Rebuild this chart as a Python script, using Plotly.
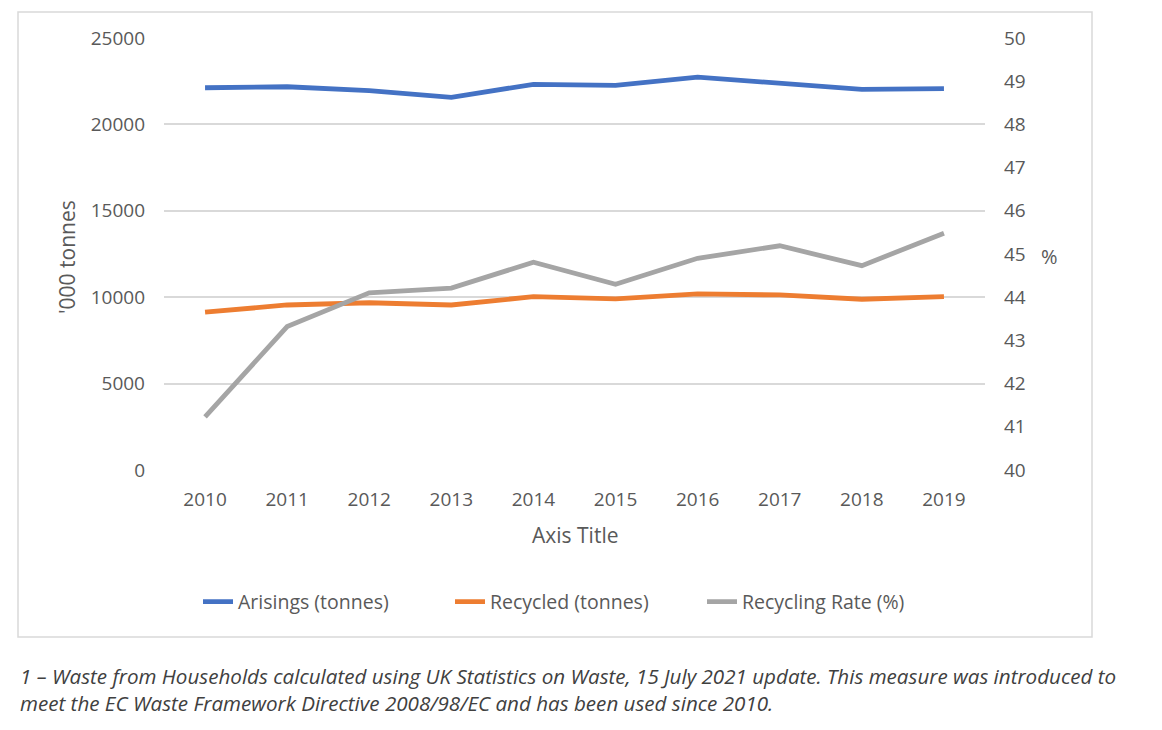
import plotly.graph_objects as go

years = ["2010", "2011", "2012", "2013", "2014", "2015", "2016", "2017", "2018", "2019"]
arisings = [22120, 22180, 21950, 21570, 22320, 22260, 22730, 22410, 22030, 22070]
recycled = [9130, 9550, 9680, 9550, 10030, 9900, 10190, 10130, 9880, 10030]
recycling_rate = [41.23, 43.32, 44.10, 44.21, 44.81, 44.30, 44.90, 45.19, 44.73, 45.48]

left_ticks = [0, 5000, 10000, 15000, 20000, 25000]
right_ticks = [40, 41, 42, 43, 44, 45, 46, 47, 48, 49, 50]

caption = ("1 – Waste from Households calculated using UK Statistics on Waste, 15 July 2021 update. "
           "This measure was introduced to<br>meet the EC Waste Framework Directive 2008/98/EC and has been used since 2010.")

OFF = 8  # page body margin
W, H = 1162 - OFF, 730 - OFF
L, R, T, B = 164 - OFF, 985 - OFF, 38 - OFF, 470 - OFF

def px(x):
    return (x - OFF - L) / (R - L)

def py(y):
    return (B - (y - OFF)) / (B - T)

FONT = "Open Sans"
GREY_TXT = "#595959"

fig = go.Figure()
fig.add_trace(go.Scatter(x=years, y=arisings, name="Arisings (tonnes)", mode="lines",
                         line=dict(color="#4472C4", width=4.8)))
fig.add_trace(go.Scatter(x=years, y=recycled, name="Recycled (tonnes)", mode="lines",
                         line=dict(color="#ED7D31", width=4.8)))
fig.add_trace(go.Scatter(x=years, y=recycling_rate, name="Recycling Rate (%)", mode="lines",
                         yaxis="y2", line=dict(color="#A5A5A5", width=4.8)))

fig.update_layout(
    width=W, height=H,
    margin=dict(l=L, r=W - R, t=T, b=H - B, autoexpand=False),
    paper_bgcolor="white", plot_bgcolor="white",
    font=dict(family=FONT, color=GREY_TXT, size=19),
    showlegend=True,
    legend=dict(orientation="h", x=px(576), xanchor="center", y=py(602), yanchor="middle",
                font=dict(family=FONT, size=19.5, color=GREY_TXT), bgcolor="rgba(0,0,0,0)",
                entrywidth=207),
    xaxis=dict(type="category", range=[-0.5, len(years) - 0.5], showgrid=False, zeroline=False,
               showline=False, ticks="", tickfont=dict(size=19, color=GREY_TXT), ticklabelstandoff=16),
    yaxis=dict(range=[0, 25000], tickvals=left_ticks, ticktext=[str(v) for v in left_ticks],
               showgrid=True, gridcolor="#D9D9D9", gridwidth=1.5, zeroline=False, showline=False,
               ticks="", tickfont=dict(size=19, color=GREY_TXT), ticklabelstandoff=18),
    yaxis2=dict(range=[40, 50], tickvals=right_ticks, overlaying="y", side="right",
                showgrid=False, zeroline=False, showline=False, ticks="",
                tickfont=dict(size=19, color=GREY_TXT), ticklabelstandoff=18),
    shapes=[dict(type="rect", xref="paper", yref="paper",
                 x0=px(18), x1=px(1092), y0=py(637), y1=py(12),
                 line=dict(color="#D9D9D9", width=1.5), fillcolor="rgba(0,0,0,0)", layer="below")],
    annotations=[
        dict(text="'000 tonnes", xref="paper", yref="paper", x=px(67), y=py(257),
             textangle=-90, showarrow=False, font=dict(size=21, color=GREY_TXT),
             xanchor="center", yanchor="middle"),
        dict(text="%", xref="paper", yref="paper", x=px(1049), y=py(256),
             showarrow=False, font=dict(size=20, color=GREY_TXT), xanchor="center", yanchor="middle"),
        dict(text="Axis Title", xref="paper", yref="paper", x=px(575), y=py(535),
             showarrow=False, font=dict(size=21, color=GREY_TXT), xanchor="center", yanchor="middle"),
        dict(text="<i>" + caption + "</i>", xref="paper", yref="paper", x=px(18), y=py(689),
             showarrow=False, align="left", xanchor="left", yanchor="middle",
             font=dict(size=20.6, color="#404040", family=FONT)),
    ],
)

fig.write_html("out.html")
